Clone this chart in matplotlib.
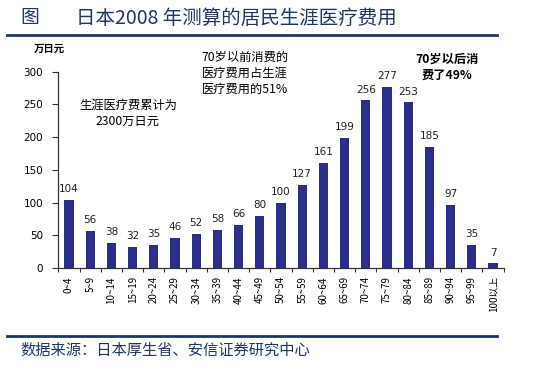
import matplotlib.pyplot as plt
import numpy as np

plt.rcParams['font.family'] = ['Noto Sans CJK SC', 'DejaVu Sans']

age_groups = ['0~4', '5~9', '10~14', '15~19', '20~24', '25~29', '30~34',
              '35~39', '40~44', '45~49', '50~54', '55~59', '60~64', '65~69',
              '70~74', '75~79', '80~84', '85~89', '90~94', '95~99', '100以上']
costs = [104, 56, 38, 32, 35, 46, 52, 58, 66, 80, 100, 127, 161, 199,
         256, 277, 253, 185, 97, 35, 7]
y_ticks = [0, 50, 100, 150, 200, 250, 300]

bar_color = '#2b2e8c'
navy = '#1f3768'

fig = plt.figure(figsize=(5.6, 3.72), dpi=100)
ax = fig.add_axes([58.4 / 560, 104 / 372, 445.2 / 560, 196.3 / 372])

x = np.arange(len(costs))
ax.bar(x, costs, width=0.43, color=bar_color)
for xi, v in zip(x, costs):
    ax.text(xi, v + 9, str(v), ha='center', va='bottom', fontsize=7.5,
            family='DejaVu Sans', color='#222222')

ax.set_xlim(-0.5, len(costs) - 0.5)
ax.set_ylim(0, 300)
ax.set_yticks(y_ticks)
ax.set_yticklabels([str(t) for t in y_ticks], fontsize=7.5, family='DejaVu Sans')
ax.tick_params(axis='y', length=4, width=0.8, pad=7, color='#333333')

ax.set_xticks(x)
ax.set_xticklabels(age_groups, rotation=90, fontsize=7)
ax.set_xticks(np.arange(len(costs) + 1) - 0.5, minor=True)
ax.tick_params(axis='x', which='major', length=0, pad=6)
ax.tick_params(axis='x', which='minor', length=3, width=0.8, color='#333333')

for s in ['top', 'right']:
    ax.spines[s].set_visible(False)
for s in ['left', 'bottom']:
    ax.spines[s].set_color('#333333')
    ax.spines[s].set_linewidth(0.9)

# annotations (figure pixel positions)
def fy(p):
    return 1 - p / 372

fig.text(128 / 560, fy(113), '生涯医疗费累计为\n2300万日元', ha='center',
         va='center', fontsize=8.8, linespacing=1.35)
fig.text(245 / 560, fy(73), '70岁以前消费的\n医疗费用占生涯\n医疗费用的51%',
         ha='center', va='center', fontsize=8.8, linespacing=1.3)
fig.text(447 / 560, fy(67.5), '70岁以后消\n费了49%', ha='center', va='center',
         fontsize=8.8, linespacing=1.3, fontweight='bold')

# header / footer
fig.text(20 / 560, fy(18), '图', fontsize=13.5, color=navy,
         ha='left', va='center')
fig.text(76 / 560, fy(18), '日本2008 年测算的居民生涯医疗费用',
         fontsize=14, color=navy, ha='left', va='center')
fig.text(49 / 560, fy(49), '万日元', fontsize=7.5, ha='center',
         va='center', fontweight='bold')
fig.add_artist(plt.Line2D([7 / 560, 497 / 560], [fy(35), fy(35)],
                          color=navy, linewidth=2))
fig.add_artist(plt.Line2D([7 / 560, 497 / 560], [fy(336), fy(336)],
                          color=navy, linewidth=2))
fig.text(20 / 560, fy(350), '数据来源：日本厚生省、安信证券研究中心',
         fontsize=11, color=navy, ha='left', va='center')

fig.savefig('out.png', dpi=100)
